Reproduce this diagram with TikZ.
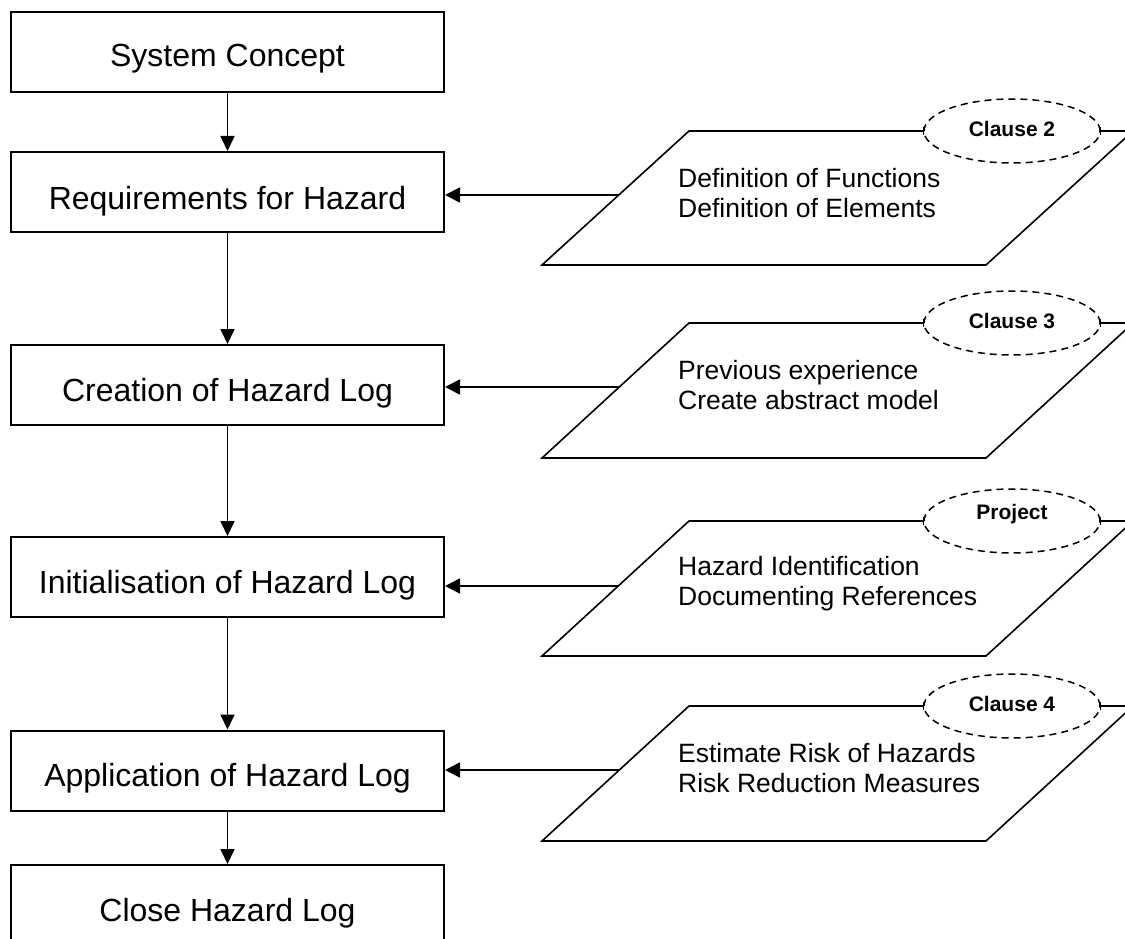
\documentclass[tikz,border=0pt]{standalone}
\usepackage{fontspec}
\setmainfont{Liberation Sans}
\usetikzlibrary{arrows.meta,shapes.geometric,calc}

% One input sheet: parallelogram with two lines of text, a dashed source tag
% sitting on its top edge, and an arrow feeding the process step on the left.
% #1 name, #2 top y, #3 bottom y, #4 arrow y, #5 text, #6 tag, #7 target step,
% #8 extra options for the tag
\newcommand\hazinput[8]{%
  \coordinate (#1bl) at (542,#3);
  \coordinate (#1br) at (986,#3);
  \coordinate (#1tr) at (1133,#2);
  \coordinate (#1tl) at (689,#2);
  \draw[sheet] (#1bl) -- (#1br) -- (#1tr) -- (#1tl) -- cycle;
  \node[sheettext] (#1txt) at (678,{(#2+#3)/2-5}) {#5};
  \node[clause,#8] (#1tag) at (1012,#2) {#6};
  \draw[line width=1pt] ([yshift=-4pt]#1tag.west) -- ([yshift=4pt]#1tag.west);
  \draw[line width=1pt] ([yshift=-4pt]#1tag.east) -- ([yshift=4pt]#1tag.east);
  \coordinate (#1in) at ($(#1bl)!{(#3-#4)/(#3-#2)}!(#1tl)$);
  \draw[feed] (#1in) -- (#7.east |- #1in);
}

\begin{document}
\begin{tikzpicture}[x=1pt,y=-1pt,
  stepbox/.style={draw,line width=2pt,minimum width=433pt,minimum height=80pt,
    inner sep=0pt,text depth=0pt,text height=31pt,
    font=\fontsize{32}{38}\selectfont},
  flow/.style={line width=1.8pt,-{Triangle[length=15pt,width=14pt]}},
  feed/.style={line width=1.8pt,-{Triangle[length=15pt,width=15pt]}},
  sheet/.style={line width=1.6pt,line join=miter},
  sheettext/.style={anchor=west,align=left,inner sep=0pt,
    font=\fontsize{26.5}{30}\selectfont},
  clause/.style={draw,ellipse,fill=white,line width=1.5pt,
    dash pattern=on 7pt off 5pt,minimum width=176pt,minimum height=64pt,
    inner sep=0pt,text height=11pt,text depth=0pt,
    font=\bfseries\fontsize{21}{24}\selectfont}
]
\useasboundingbox (0,0) rectangle (1125,939);
\clip (0,0) rectangle (1125,939);

% process steps
\node[stepbox,text height=29pt] (sys) at (227.5,52)    {System Concept};
\node[stepbox,text height=35pt] (req) at (227.5,192)   {Requirements for Hazard};
\node[stepbox,text height=32pt] (cre) at (227.5,385)   {Creation of Hazard Log};
\node[stepbox,text height=33pt] (ini) at (227.5,577)   {Initialisation of Hazard Log};
\node[stepbox,text height=31pt] (app) at (227.5,770.5) {Application of Hazard Log};
\node[stepbox,text height=33pt] (clo) at (227.5,905)   {Close Hazard Log};

\draw[flow] (sys) -- (req);
\draw[flow] (req) -- (cre);
\draw[flow] (cre) -- (ini);
\draw[flow] (ini) -- (app);
\draw[flow] (app) -- (clo);

% inputs to each step
\hazinput{pa}{131}{265}{195}{Definition of Functions\\Definition of Elements}{Clause 2}{req}{}
\hazinput{pb}{323}{458}{387}{Previous experience\\Create abstract model}{Clause 3}{cre}{}
\hazinput{pc}{521}{656}{586}{Hazard Identification\\Documenting References}{Project}{ini}{text height=0pt,text depth=3pt}
\hazinput{pd}{706}{841}{770}{Estimate Risk of Hazards\\Risk Reduction Measures}{Clause 4}{app}{}
\end{tikzpicture}
\end{document}
